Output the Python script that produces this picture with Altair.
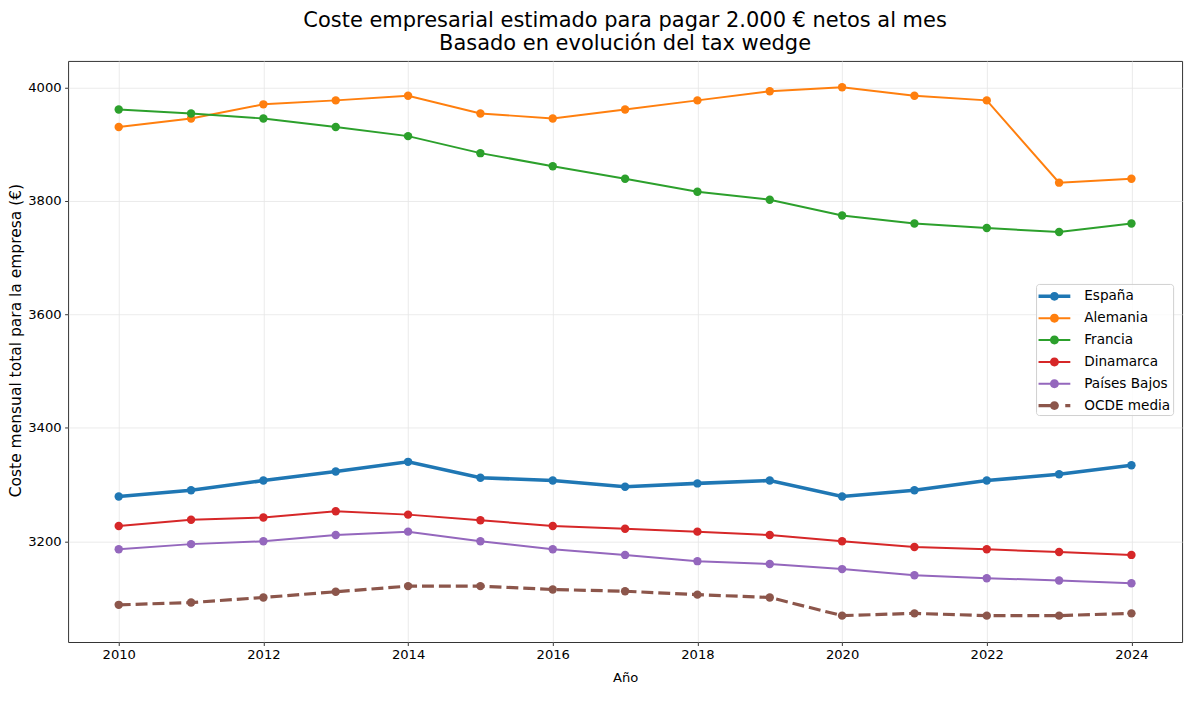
import altair as alt
import pandas as pd

years = list(range(2010, 2025))
series = ["España", "Alemania", "Francia", "Dinamarca", "Países Bajos", "OCDE media"]
espana = [3279, 3290, 3307, 3323, 3340, 3312, 3307, 3296, 3302, 3307, 3279, 3290, 3307, 3318, 3334]
alemania = [3930, 3945, 3970, 3977, 3985, 3954, 3945, 3961, 3977, 3993, 4000, 3985, 3977, 3832, 3839]
francia = [3961, 3954, 3945, 3930, 3914, 3884, 3861, 3839, 3816, 3802, 3774, 3760, 3752, 3745, 3760]
dinamarca = [3227, 3238, 3242, 3253, 3247, 3237, 3227, 3222, 3217, 3211, 3200, 3190, 3186, 3181, 3176]
paises_bajos = [3186, 3195, 3200, 3211, 3217, 3200, 3186, 3176, 3165, 3160, 3151, 3140, 3135, 3131, 3126]
ocde = [3088, 3092, 3101, 3111, 3121, 3121, 3115, 3112, 3106, 3101, 3069, 3073, 3069, 3069, 3073]

values = [espana, alemania, francia, dinamarca, paises_bajos, ocde]
colors = ["#1f77b4", "#ff7f0e", "#2ca02c", "#d62728", "#9467bd", "#8c564b"]

rows = []
for name, vals in zip(series, values):
    for yr, v in zip(years, vals):
        rows.append({"Año": yr, "valor": v, "serie": name})
df = pd.DataFrame(rows)

FONT = "DejaVu Sans"


def sym_path(h, r, segs):
    p = "".join(f"M{a},{-h}L{b},{-h}L{b},{h}L{a},{h}Z" for a, b in segs)
    p += f"M{-r},0A{r},{r} 0 1,1 {r},0A{r},{r} 0 1,1 {-r},0Z"
    return p


# legend glyphs (unit = 10 px): line with a dot, like the matplotlib handles
shapes = [
    sym_path(0.175, 0.45, [(-1.6, 1.6)]),
    sym_path(0.1, 0.45, [(-1.6, 1.6)]),
    sym_path(0.1, 0.45, [(-1.6, 1.6)]),
    sym_path(0.1, 0.45, [(-1.6, 1.6)]),
    sym_path(0.1, 0.45, [(-1.6, 1.6)]),
    sym_path(0.16, 0.45, [(-1.6, -0.3), (1.09, 1.6)]),
]

x_enc = alt.X(
    "Año:Q",
    scale=alt.Scale(domain=[2009.3, 2024.7], nice=False, zero=False),
    axis=alt.Axis(values=list(range(2010, 2025, 2)), format="d", title="Año",
                  titleY=30, titleFontSize=13.2),
)
y_enc = alt.Y(
    "valor:Q",
    scale=alt.Scale(domain=[3022.5, 4046.5], nice=False, zero=False),
    axis=alt.Axis(values=[3200, 3400, 3600, 3800, 4000], format="d",
                  title="Coste mensual total para la empresa (€)",
                  titleX=-44.5, titleY=281, titleBaseline="bottom", titleFontSize=15.6),
)
color_enc = alt.Color("serie:N", scale=alt.Scale(domain=series, range=colors), legend=None)

leg = alt.Legend(
    title=None,
    orient="none",
    legendX=974.5,
    legendY=224.5,
    symbolSize=400,
    symbolOffset=6,
    symbolOpacity=1,
    symbolStrokeWidth=0,
    labelFontSize=13.7,
    labelFont=FONT,
    labelColor="black",
    labelOffset=20,
    labelExpr="datum.label + '\u00a0\u00a0'",
    padding=2.5,
    rowPadding=5,
    fillColor="rgba(255,255,255,0.8)",
    strokeColor="#d0d0d0",
    cornerRadius=3,
)

base = alt.Chart(df)

# invisible layer that only carries the legend (first, so its legend wins the merge)
legend_layer = base.mark_point(filled=True, opacity=0).encode(
    x=x_enc,
    y=y_enc,
    fill=alt.Fill("serie:N", scale=alt.Scale(domain=series, range=colors), legend=leg),
    shape=alt.Shape("serie:N", scale=alt.Scale(domain=series, range=shapes), legend=leg),
)

lines = base.transform_filter("datum.serie != 'OCDE media'").mark_line().encode(
    x=x_enc,
    y=y_enc,
    color=color_enc,
    strokeWidth=alt.condition("datum.serie == 'España'", alt.value(3.6), alt.value(2)),
)

ocde_line = base.transform_filter("datum.serie == 'OCDE media'").mark_line(
    strokeWidth=3.2, strokeDash=[12, 5]
).encode(x=x_enc, y=y_enc, color=color_enc)

points = base.mark_circle(size=72, opacity=1).encode(
    x=x_enc,
    y=y_enc,
    color=color_enc,
)

chart = (
    alt.layer(legend_layer, lines, ocde_line, points)
    .properties(
        width=1121.5,
        height=585,
        autosize=alt.AutoSizeParams(type="none"),
        padding={"left": 60.5, "top": 51, "right": 10, "bottom": 44},
        title=alt.TitleParams(
            text=["Coste empresarial estimado para pagar 2.000 € netos al mes",
                  "Basado en evolución del tax wedge"],
            fontSize=21.1,
            font=FONT,
            fontWeight="normal",
            color="black",
            anchor="middle",
            offset=7,
            lineHeight=23,
        ),
    )
    .configure_view(stroke="#333333", strokeWidth=1)
    .configure_axis(
        domain=False,
        grid=True,
        gridColor="#e6e6e6",
        gridWidth=0.8,
        tickColor="#333333",
        tickSize=3.5,
        tickWidth=1,
        labelFont=FONT,
        labelFontSize=13.2,
        labelColor="black",
        labelPadding=3.5,
        titleFont=FONT,
        titleFontWeight="normal",
        titleColor="black",
    )
)

chart.save("out.html", embed_options={"renderer": "svg", "actions": False})
